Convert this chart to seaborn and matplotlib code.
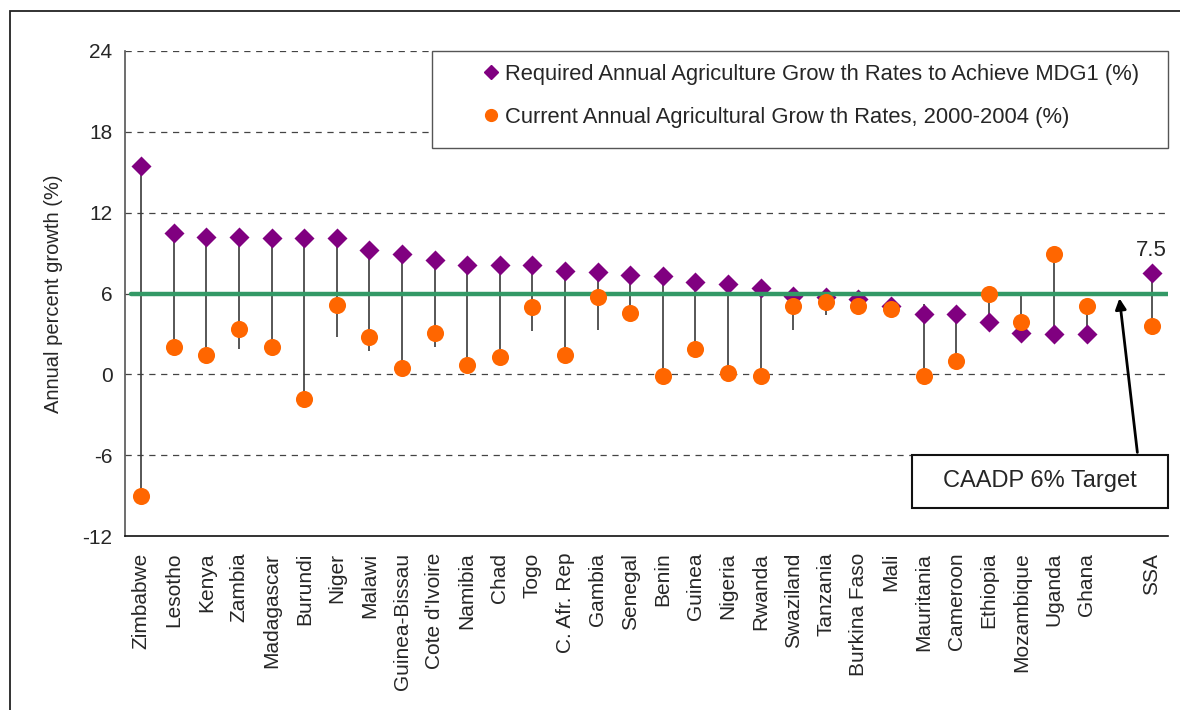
import numpy as np
import pandas as pd
import matplotlib
matplotlib.use("Agg")
import matplotlib.pyplot as plt
import seaborn as sns
from matplotlib.lines import Line2D
from matplotlib.patches import Rectangle

# ---------------- data ----------------
countries = ["Zimbabwe", "Lesotho", "Kenya", "Zambia", "Madagascar", "Burundi", "Niger",
             "Malawi", "Guinea-Bissau", "Cote d'Ivoire", "Namibia", "Chad", "Togo",
             "C. Afr. Rep", "Gambia", "Senegal", "Benin", "Guinea", "Nigeria", "Rwanda",
             "Swaziland", "Tanzania", "Burkina Faso", "Mali", "Mauritania", "Cameroon",
             "Ethiopia", "Mozambique", "Uganda", "Ghana", "SSA"]
required = [15.5, 10.5, 10.2, 10.2, 10.1, 10.1, 10.1, 9.2, 8.9, 8.5, 8.15, 8.15, 8.15,
            7.7, 7.6, 7.4, 7.3, 6.85, 6.7, 6.4, 5.8, 5.75, 5.6, 5.1, 4.45, 4.45,
            3.9, 3.1, 3.0, 3.0, 7.5]
current = [-9.0, 2.0, 1.45, 3.35, 2.0, -1.85, 5.15, 2.75, 0.5, 3.05, 0.7, 1.3, 5.0,
           1.45, 5.75, 4.55, -0.15, 1.9, 0.1, -0.15, 5.1, 5.4, 5.1, 4.85, -0.15, 1.0,
           6.0, 3.9, 8.95, 5.1, 3.6]
# hidden third series that extends Excel's high-low lines
hidden = [np.nan, np.nan, np.nan, 1.85, np.nan, np.nan, 2.75, 1.7, np.nan, 2.0, np.nan,
          np.nan, 3.2, np.nan, 3.3, 3.95, np.nan, np.nan, np.nan, np.nan, 3.3, 4.4, 4.55,
          np.nan, 5.2, np.nan, np.nan, 5.85, np.nan, np.nan, 2.9]
caadp_target = 6.0
ssa_label = "7.5"
slots = countries[:30] + [" "] + ["SSA"]
y_ticks = [-12, -6, 0, 6, 12, 18, 24]

label_req = "Required Annual Agriculture Grow th Rates to Achieve MDG1 (%)"
label_cur = "Current Annual Agricultural Grow th Rates, 2000-2004 (%)"

df = pd.DataFrame({"country": countries, "required": required,
                   "current": current, "hidden": hidden})
df["lo"] = df[["required", "current", "hidden"]].min(axis=1)
df["hi"] = df[["required", "current", "hidden"]].max(axis=1)
df["pos"] = [slots.index(c) for c in df["country"]]

# ---------------- style ----------------
sns.set_style("white")
plt.rcParams["font.family"] = ["Liberation Sans", "DejaVu Sans"]

PURPLE = "#800080"
ORANGE = "#FF6600"
GREEN = "#339966"

fig = plt.figure(figsize=(11.8, 7.1), dpi=100)
ax = fig.add_axes([125 / 1180, 1 - 536 / 710, 1043 / 1180, 485 / 710])

# stems (high-low lines)
ax.vlines(df["pos"], df["lo"], df["hi"], colors="#3a3a3a", linewidth=1.2, zorder=1)

sns.stripplot(data=df, x="country", y="required", order=slots, jitter=False,
              marker="D", color=PURPLE, size=10.2, linewidth=0, ax=ax, zorder=2)
ax.axhline(caadp_target, xmin=0.006, xmax=1, color=GREEN, linewidth=3.2, zorder=3)
sns.stripplot(data=df, x="country", y="current", order=slots, jitter=False,
              marker="o", color=ORANGE, size=12.3, linewidth=0, ax=ax, zorder=4)

ax.set_xlim(-0.5, len(slots) - 0.5)
ax.set_ylim(-12, 24)
ax.set_yticks(y_ticks)
ax.set_yticklabels([str(t) for t in y_ticks], fontsize=15)
ax.set_xticks(range(len(slots)))
ax.set_xticklabels(slots, rotation=90, fontsize=15)
ax.set_xticks(np.arange(-0.5, len(slots), 1.0), minor=True)
ax.tick_params(axis="x", which="major", length=0, pad=12)
ax.tick_params(axis="x", which="minor", length=10, direction="inout", width=1, color="#333")
ax.tick_params(axis="y", length=10, direction="inout", width=1, color="#333", pad=4)
ax.set_xlabel("")
ax.set_ylabel("Annual percent growth (%)", fontsize=14.5, labelpad=14)

for yv in y_ticks[1:]:
    ax.axhline(yv, color="#444", linewidth=0.9, linestyle=(0, (5, 4.5)), zorder=0)

for s in ["top", "right"]:
    ax.spines[s].set_visible(False)
ax.spines["left"].set_color("#555")
ax.spines["bottom"].set_color("#111")
ax.spines["left"].set_linewidth(1.2)
ax.spines["bottom"].set_linewidth(1.2)

# SSA value label
ssa_pos = slots.index("SSA")
ax.annotate(ssa_label, xy=(ssa_pos, required[-1]), xytext=(0, 9),
            textcoords="offset points", ha="center", va="bottom", fontsize=16)

# legend: frame drawn separately, entries placed inside
W, H = 1043.0, 485.0
frame = Rectangle(((432 - 125) / W, 1 - (148 - 51) / H), (1168 - 432) / W, (148 - 51) / H,
                  transform=ax.transAxes, facecolor="white", edgecolor="#555",
                  linewidth=1.0, zorder=6, clip_on=False)
ax.add_patch(frame)
handles = [Line2D([], [], marker="D", linestyle="", color=PURPLE, markersize=7.5),
           Line2D([], [], marker="o", linestyle="", color=ORANGE, markersize=8.5)]
leg = ax.legend(handles, [label_req, label_cur], loc="upper left",
                bbox_to_anchor=((484 - 125) / W, 1 - (64 - 51) / H),
                fontsize=15.8, frameon=False, borderpad=0.0, labelspacing=1.0,
                handlelength=0.6, handletextpad=0.35, borderaxespad=0.0)
leg.set_zorder(7)

# CAADP target box and arrow
box_x0 = 23.64
box = Rectangle((box_x0, -9.95), len(slots) - 0.5 - box_x0, 3.95, facecolor="white",
                edgecolor="#111", linewidth=1.5, zorder=5, clip_on=False)
ax.add_patch(box)
ax.text((box_x0 + len(slots) - 0.5) / 2, -7.95, "CAADP 6% Target", ha="center",
        va="center", fontsize=17, zorder=6)
ax.annotate("", xy=(30.0, 5.85), xytext=(30.57, -6.0),
            arrowprops=dict(arrowstyle="-|>", color="black", lw=2.0,
                            mutation_scale=16), zorder=6)

# outer frame
fig.patches.append(Rectangle((10 / 1180, -0.05), 1.2, 1 - 11 / 710 + 0.05,
                             transform=fig.transFigure, fill=False,
                             edgecolor="#222", linewidth=1.3))

fig.savefig("out.png", dpi=100)
